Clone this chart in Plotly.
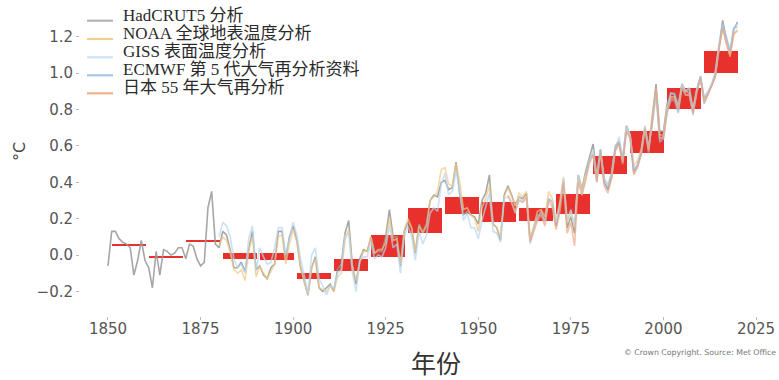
import plotly.graph_objects as go

# Annual global mean temperature anomalies (°C, relative to 1850-1900)
hadcrut_start = 1850
hadcrut = [
    -0.06, 0.13, 0.13, 0.09, 0.07, 0.06, 0.04, -0.11, -0.03, 0.08,
    -0.03, -0.07, -0.18, 0.02, -0.11, 0.03, 0.02, 0.00, 0.01, 0.04,
    0.04, -0.02, 0.06, 0.05, -0.02, -0.06, -0.04, 0.26, 0.35, 0.06,
    0.04, 0.13, 0.11, 0.03, -0.07, -0.07, -0.04, -0.09, 0.03, 0.13,
    -0.08, -0.06, -0.11, -0.13, -0.07, -0.05, 0.13, 0.13, -0.02, 0.10,
    0.16, 0.08, -0.07, -0.15, -0.22, -0.07, -0.01, -0.18, -0.20, -0.18,
    -0.16, -0.20, -0.08, -0.05, 0.12, 0.19, -0.06, -0.16, -0.02, 0.03,
    0.02, 0.10, 0.01, 0.02, 0.02, 0.10, 0.25, 0.10, 0.10, -0.06,
    0.13, 0.18, 0.15, 0.01, 0.17, 0.13, 0.17, 0.30, 0.33, 0.32,
    0.40, 0.41, 0.36, 0.37, 0.51, 0.33, 0.22, 0.24, 0.22, 0.21,
    0.17, 0.30, 0.34, 0.44, 0.17, 0.15, 0.08, 0.33, 0.38, 0.33,
    0.27, 0.32, 0.31, 0.34, 0.08, 0.15, 0.22, 0.22, 0.19, 0.31,
    0.29, 0.16, 0.26, 0.41, 0.15, 0.21, 0.12, 0.44, 0.36, 0.46,
    0.54, 0.61, 0.44, 0.58, 0.40, 0.36, 0.43, 0.58, 0.62, 0.52,
    0.71, 0.66, 0.46, 0.49, 0.56, 0.70, 0.56, 0.76, 0.94, 0.68,
    0.68, 0.83, 0.89, 0.89, 0.83, 0.94, 0.90, 0.91, 0.79, 0.90,
    0.98, 0.86, 0.89, 0.93, 0.99, 1.14, 1.29, 1.18, 1.11, 1.24, 1.28,
]

noaa_start = 1880
noaa = [
    0.05, 0.10, 0.08, 0.02, -0.08, -0.10, -0.08, -0.14, 0.02, 0.10,
    -0.12, -0.06, -0.10, -0.13, -0.09, -0.05, 0.10, 0.11, -0.05, 0.06,
    0.14, 0.07, -0.06, -0.15, -0.22, -0.07, -0.02, -0.18, -0.19, -0.20,
    -0.17, -0.20, -0.12, -0.10, 0.08, 0.14, -0.06, -0.14, -0.04, 0.02,
    0.02, 0.10, 0.01, 0.03, 0.03, 0.07, 0.20, 0.08, 0.09, -0.05,
    0.14, 0.20, 0.15, 0.02, 0.16, 0.12, 0.16, 0.30, 0.32, 0.35,
    0.47, 0.48, 0.39, 0.38, 0.50, 0.40, 0.25, 0.26, 0.22, 0.20,
    0.13, 0.26, 0.31, 0.38, 0.17, 0.15, 0.10, 0.32, 0.37, 0.32,
    0.27, 0.34, 0.32, 0.35, 0.09, 0.16, 0.24, 0.25, 0.21, 0.35,
    0.31, 0.19, 0.29, 0.43, 0.18, 0.24, 0.15, 0.44, 0.36, 0.45,
    0.52, 0.56, 0.44, 0.58, 0.42, 0.39, 0.45, 0.60, 0.63, 0.54,
    0.70, 0.66, 0.49, 0.52, 0.58, 0.71, 0.58, 0.78, 0.91, 0.66,
    0.66, 0.81, 0.87, 0.87, 0.82, 0.93, 0.90, 0.89, 0.80, 0.91,
    0.98, 0.85, 0.89, 0.93, 0.99, 1.15, 1.24, 1.16, 1.09, 1.21, 1.24,
]

giss_start = 1880
giss = [
    0.10, 0.18, 0.16, 0.10, -0.02, -0.07, -0.05, -0.10, 0.09, 0.16,
    -0.09, 0.04, -0.01, -0.05, -0.04, 0.04, 0.15, 0.15, 0.00, 0.09,
    0.18, 0.11, -0.02, -0.11, -0.21, 0.00, 0.04, -0.13, -0.17, -0.22,
    -0.17, -0.18, -0.10, -0.08, 0.11, 0.12, -0.10, -0.20, -0.03, -0.01,
    -0.01, 0.07, -0.02, 0.00, -0.01, 0.04, 0.16, 0.04, 0.06, -0.10,
    0.10, 0.16, 0.10, -0.03, 0.13, 0.06, 0.11, 0.23, 0.26, 0.24,
    0.39, 0.45, 0.33, 0.35, 0.46, 0.35, 0.19, 0.23, 0.15, 0.15,
    0.09, 0.19, 0.27, 0.34, 0.13, 0.12, 0.07, 0.31, 0.32, 0.29,
    0.23, 0.32, 0.29, 0.31, 0.06, 0.15, 0.20, 0.24, 0.18, 0.31,
    0.29, 0.18, 0.27, 0.42, 0.19, 0.25, 0.16, 0.44, 0.33, 0.42,
    0.52, 0.58, 0.40, 0.57, 0.42, 0.38, 0.44, 0.58, 0.65, 0.53,
    0.71, 0.66, 0.48, 0.49, 0.57, 0.71, 0.59, 0.72, 0.87, 0.64,
    0.65, 0.80, 0.89, 0.88, 0.79, 0.94, 0.90, 0.92, 0.80, 0.91,
    0.98, 0.87, 0.90, 0.94, 1.01, 1.16, 1.27, 1.18, 1.11, 1.24, 1.27,
]

era5_start = 1979
era5 = [
    0.44,
    0.53, 0.55, 0.41, 0.58, 0.40, 0.37, 0.45, 0.60, 0.62, 0.51,
    0.68, 0.65, 0.45, 0.50, 0.56, 0.69, 0.59, 0.73, 0.91, 0.62,
    0.64, 0.78, 0.85, 0.85, 0.78, 0.92, 0.88, 0.88, 0.77, 0.90,
    0.98, 0.83, 0.88, 0.92, 0.98, 1.13, 1.27, 1.20, 1.12, 1.25, 1.25,
]

jra55_start = 1958
jra55 = [
    0.33, 0.28,
    0.24, 0.30, 0.29, 0.32, 0.07, 0.13, 0.19, 0.22, 0.16, 0.30,
    0.26, 0.14, 0.23, 0.40, 0.12, 0.18, 0.05, 0.40, 0.33, 0.41,
    0.50, 0.55, 0.40, 0.56, 0.38, 0.34, 0.42, 0.57, 0.61, 0.50,
    0.68, 0.64, 0.44, 0.48, 0.55, 0.69, 0.57, 0.75, 0.92, 0.64,
    0.64, 0.79, 0.86, 0.86, 0.80, 0.92, 0.88, 0.88, 0.78, 0.89,
    0.97, 0.84, 0.88, 0.93, 0.98, 1.13, 1.25, 1.16, 1.10, 1.22, 1.23,
]

# Decadal averages: centre value and half of the range across datasets
decades = [1850, 1860, 1870, 1880, 1890, 1900, 1910, 1920, 1930,
           1940, 1950, 1960, 1970, 1980, 1990, 2000, 2010]
decade_mean = [0.055, -0.009, 0.079, -0.007, -0.008, -0.115, -0.055, 0.050,
               0.188, 0.273, 0.236, 0.222, 0.279, 0.496, 0.622, 0.861, 1.060]
decade_half = [0.003, 0.003, 0.003, 0.016, 0.017, 0.018, 0.031, 0.060,
               0.069, 0.048, 0.055, 0.034, 0.055, 0.049, 0.060, 0.058, 0.060]

series = [
    ("HadCRUT5 分析", hadcrut_start, hadcrut, "rgba(150,150,150,0.85)"),
    ("NOAA 全球地表温度分析", noaa_start, noaa, "rgba(242,200,130,0.7)"),
    ("GISS 表面温度分析", giss_start, giss, "rgba(180,214,240,0.7)"),
    ("ECMWF 第 5 代大气再分析资料", era5_start, era5, "rgba(150,190,225,0.7)"),
    ("日本 55 年大气再分析", jra55_start, jra55, "rgba(240,165,130,0.7)"),
]

fig = go.Figure()

for name, start, vals, color in series:
    years = list(range(start, start + len(vals)))
    fig.add_trace(go.Scatter(
        x=years, y=vals, mode="lines", name=name,
        line=dict(color=color, width=1.6),
        showlegend=False, hoverinfo="skip",
    ))

fig.add_trace(go.Bar(
    x=[d + 5.6 for d in decades],
    y=[2 * h for h in decade_half],
    base=[m - h for m, h in zip(decade_mean, decade_half)],
    width=9.2,
    marker=dict(color="#e8312d", line=dict(width=0)),
    showlegend=False, hoverinfo="skip",
))

# Plot area in pixels, used to place the hand-drawn legend and notes
L, T, W, H = 80, 5, 694, 311


def px(x):
    return (x - L) / W


def py(y):
    return 1 - (y - T) / H


legend_font = dict(family="Liberation Serif, Noto Sans CJK SC, serif",
                   size=17, color="#2a2a2a")
legend_colors = ["#b4b4b4", "#f3cf8e", "#cfe3f5", "#a9c6e4", "#f2b08e"]
row_y = [15.7, 34.0, 52.3, 70.3, 88.3]
for (name, _, _, _), c, yy in zip(series, legend_colors, row_y):
    fig.add_shape(type="line", xref="paper", yref="paper",
                  x0=px(87), x1=px(113), y0=py(yy + 5), y1=py(yy + 5),
                  line=dict(color=c, width=2.2))
    fig.add_annotation(text=name, xref="paper", yref="paper",
                       x=px(121), y=py(yy - 0.5),
                       xanchor="left", yanchor="middle", showarrow=False,
                       font=legend_font)

fig.add_annotation(text="© Crown Copyright. Source: Met Office",
                   xref="paper", yref="paper", x=px(778), y=py(352),
                   xanchor="right", yanchor="middle", showarrow=False,
                   font=dict(family="DejaVu Sans", size=7.8, color="#777777"))

fig.add_annotation(text="年份", xref="paper", yref="paper", x=px(436), y=py(362),
                   xanchor="center", yanchor="middle", showarrow=False,
                   font=dict(family="Noto Sans CJK SC", size=25, color="#333333"))

fig.add_annotation(text="°C", xref="paper", yref="paper", x=px(20), y=py(152),
                   xanchor="center", yanchor="middle", showarrow=False,
                   textangle=-90,
                   font=dict(family="DejaVu Sans", size=16, color="#444444"))

fig.update_layout(
    width=779, height=380,
    margin=dict(l=L, r=779 - L - W, t=T, b=380 - T - H),
    paper_bgcolor="white", plot_bgcolor="white",
    bargap=0,
    xaxis=dict(
        range=[1842.44, 2029.86],
        tickmode="array", tickvals=[1850, 1875, 1900, 1925, 1950, 1975, 2000, 2025],
        ticks="outside", ticklen=3, tickcolor="#bbbbbb", tickwidth=1,
        ticklabelstandoff=-4,
        showgrid=False, zeroline=False, showline=False,
        tickfont=dict(family="DejaVu Sans", size=15, color="#555555"),
    ),
    yaxis=dict(
        range=[-0.335, 1.374],
        tickmode="array", tickvals=[-0.2, 0.0, 0.2, 0.4, 0.6, 0.8, 1.0, 1.2],
        tickformat=".1f",
        ticks="outside", ticklen=3, tickcolor="#bbbbbb", tickwidth=1,
        showgrid=False, zeroline=False, showline=False,
        tickfont=dict(family="DejaVu Sans", size=15, color="#555555"),
    ),
)

fig.write_html("out.html")
